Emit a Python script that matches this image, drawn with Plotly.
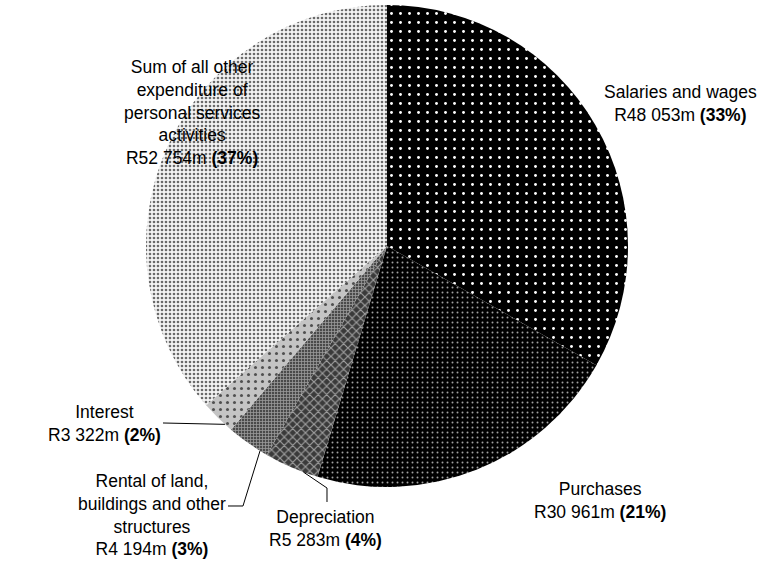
import math
import plotly.graph_objects as go

# ---- data ----
categories = ["Salaries and wages", "Purchases", "Depreciation",
              "Rental of land, buildings and other structures", "Interest",
              "Sum of all other expenditure of personal services activities"]
values = [48053, 30961, 5283, 4194, 3322, 52754]
label_names = ["Salaries and wages", "Purchases", "Depreciation",
               "Rental of land,<br>buildings and other<br>structures", "Interest",
               "Sum of all other<br>expenditure of<br>personal services<br>activities"]
amount_text = ["R48 053m", "R30 961m", "R5 283m", "R4 194m", "R3 322m", "R52 754m"]
pct_text = ["33%", "21%", "4%", "3%", "2%", "37%"]

# ---- style ----
W, H = 776, 561
bg_colors = ["#000000", "#000000", "#3a3a3a", "#4a4a4a", "#c4c4c4", "#f4f4f4"]
fg_colors = ["#ffffff", "#a0a0a0", "#a0a0a0", "#9a9a9a", "#505050", "#6a6a6a"]
shapes_p = [".", ".", "x", "+", ".", "."]
sizes_p = [9, 5, 6, 3, 7, 4]
solid_p = [0.08, 0.12, 0.35, 0.45, 0.15, 0.35]

# pie placement in pixels
cx_px, cy_px, r_px = 387, 246, 241
dom_x = [(cx_px - r_px) / W, (cx_px + r_px) / W]
dom_y = [1 - (cy_px + r_px) / H, 1 - (cy_px - r_px) / H]

fig = go.Figure(go.Pie(
    labels=categories, values=values, sort=False, direction="clockwise",
    rotation=0, textinfo="none", hoverinfo="label+value+percent",
    domain=dict(x=dom_x, y=dom_y), showlegend=False,
    marker=dict(colors=bg_colors, line=dict(width=0),
                pattern=dict(shape=shapes_p, fgcolor=fg_colors, bgcolor=bg_colors,
                             size=sizes_p, solidity=solid_p, fillmode="replace")),
))

# label positions (pixel centres)
label_pos = [(680, 103), (600, 500), (325, 528), (152, 515), (104, 423), (192, 112)]

def px(x, y):
    return x / W, 1 - y / H

for name, amt, pct, (lx, ly) in zip(label_names, amount_text, pct_text, label_pos):
    x, y = px(lx, ly)
    fig.add_annotation(x=x, y=y, xref="paper", yref="paper", showarrow=False,
                       text=f"{name}<br>{amt} <b>({pct})</b>", align="center",
                       xanchor="center", yanchor="middle",
                       font=dict(family="Liberation Sans, Arial", size=17.5, color="#000"))

# leader lines: anchor on pie edge, computed from the data angles
total = sum(values)
cum = [0]
for v in values:
    cum.append(cum[-1] + v)

def edge_point(i, frac):
    ang = 2 * math.pi * (cum[i] + frac * values[i]) / total
    return cx_px + r_px * math.sin(ang), cy_px - r_px * math.cos(ang)

def path(points):
    pts = [px(x, y) for x, y in points]
    return "M " + " L ".join(f"{x:.5f},{y:.5f}" for x, y in pts)

leaders = [
    (2, 0.27, [(327, 488), (327, 502)]),
    (3, 0.18, [(243, 506), (228, 506)]),
    (4, 0.23, [(163, 423)]),
]
for i, frac, pts in leaders:
    a = edge_point(i, frac)
    fig.add_shape(type="path", xref="paper", yref="paper", path=path([a] + pts),
                  line=dict(color="#000", width=1))

fig.update_layout(width=W, height=H, margin=dict(l=0, r=0, t=0, b=0),
                  paper_bgcolor="white", plot_bgcolor="white")
fig.write_html("out.html", config={"displayModeBar": False},
               post_script="document.body.style.margin='0';document.body.style.overflow='hidden';")
